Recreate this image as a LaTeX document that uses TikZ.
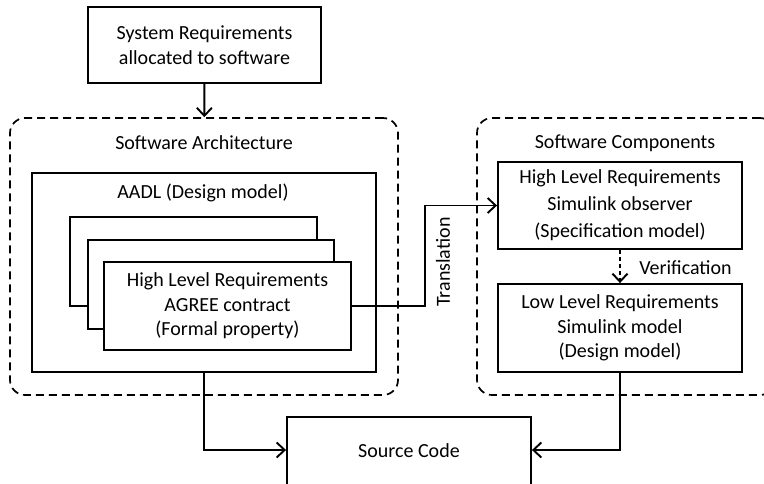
\documentclass[tikz,border=0pt]{standalone}
\usepackage{fontspec}
\setmainfont{Carlito}
\usetikzlibrary{positioning, arrows.meta}

\begin{document}
\begin{tikzpicture}[x=1pt, y=-1pt, node distance=122.5pt, line width=1.9pt,
    >={Straight Barb[length=8pt,width=15pt]}]
        \tikzstyle{req}=[draw, rectangle, fill=white, align=center, inner sep=0pt,
          font=\fontsize{20}{24.5}\selectfont];
        \tikzstyle{group}=[draw, rectangle, rounded corners=15pt, line width=1.7pt,
          dash pattern=on 8pt off 5pt];
        \tikzstyle{lbl}=[inner sep=0pt, font=\fontsize{20}{24}\selectfont];
        \useasboundingbox (0,0) rectangle (764,483);

        \node[req, minimum width=233pt, minimum height=76pt] (sysreq) at (204.5,45) {System Requirements\\allocated to software};
        \node[group, minimum width=388pt, minimum height=277pt] (swarch) at (204,256.5) {};
        \node[lbl] (swarchlbl) at (204,143) {Software Architecture};
        \node[req, minimum width=344pt, minimum height=199pt] (aadl) at (204,272.5) {};
        \node[lbl] (aadllbl) at (203,193) {AADL (Design model)};
        \node[req, minimum width=247pt, minimum height=89pt] (back1) at (193.5,261.5) {};
        \node[req, minimum width=246pt, minimum height=89pt] (back2) at (211,284.5) {};
        \node[req, minimum width=247pt, minimum height=88pt] (hlr) at (227.5,306) {High Level Requirements\\AGREE contract\\(Formal property)};

        \node[group, minimum width=298pt, minimum height=277pt] (swcomp) at (626,256.5) {};
        \node[lbl] (swcomplbl) at (625,143) {Software Components};
        \node[req, minimum width=244pt, minimum height=87pt, font=\fontsize{20}{27}\selectfont] (hlrsim) at (620,205.5) {High Level Requirements\\Simulink observer\\(Specification model)};
        \node[req, minimum width=244pt, minimum height=88pt, below of=hlrsim] (llrsim) {Low Level Requirements\\Simulink model\\(Design model)};
        \node[lbl] (verif) at (685.5,268) {Verification};

        \node[req, minimum width=244pt, minimum height=70pt] (source) at (409,452) {\raisebox{2pt}{Source Code}};
        \node[lbl, rotate=90] (transl) at (443,262) {Translation};

        \path[->]
        (sysreq) edge (swarch)
        (hlrsim) edge[dash pattern=on 4pt off 3pt] (llrsim);
        \draw[->] (hlr.east) -- ++(73,0) |- (hlrsim.west);
        \draw[->] (aadl.south) |- ([yshift=2pt]source.west);
        \draw[->] (llrsim.south) |- ([yshift=2pt]source.east);
      \end{tikzpicture}
\end{document}
